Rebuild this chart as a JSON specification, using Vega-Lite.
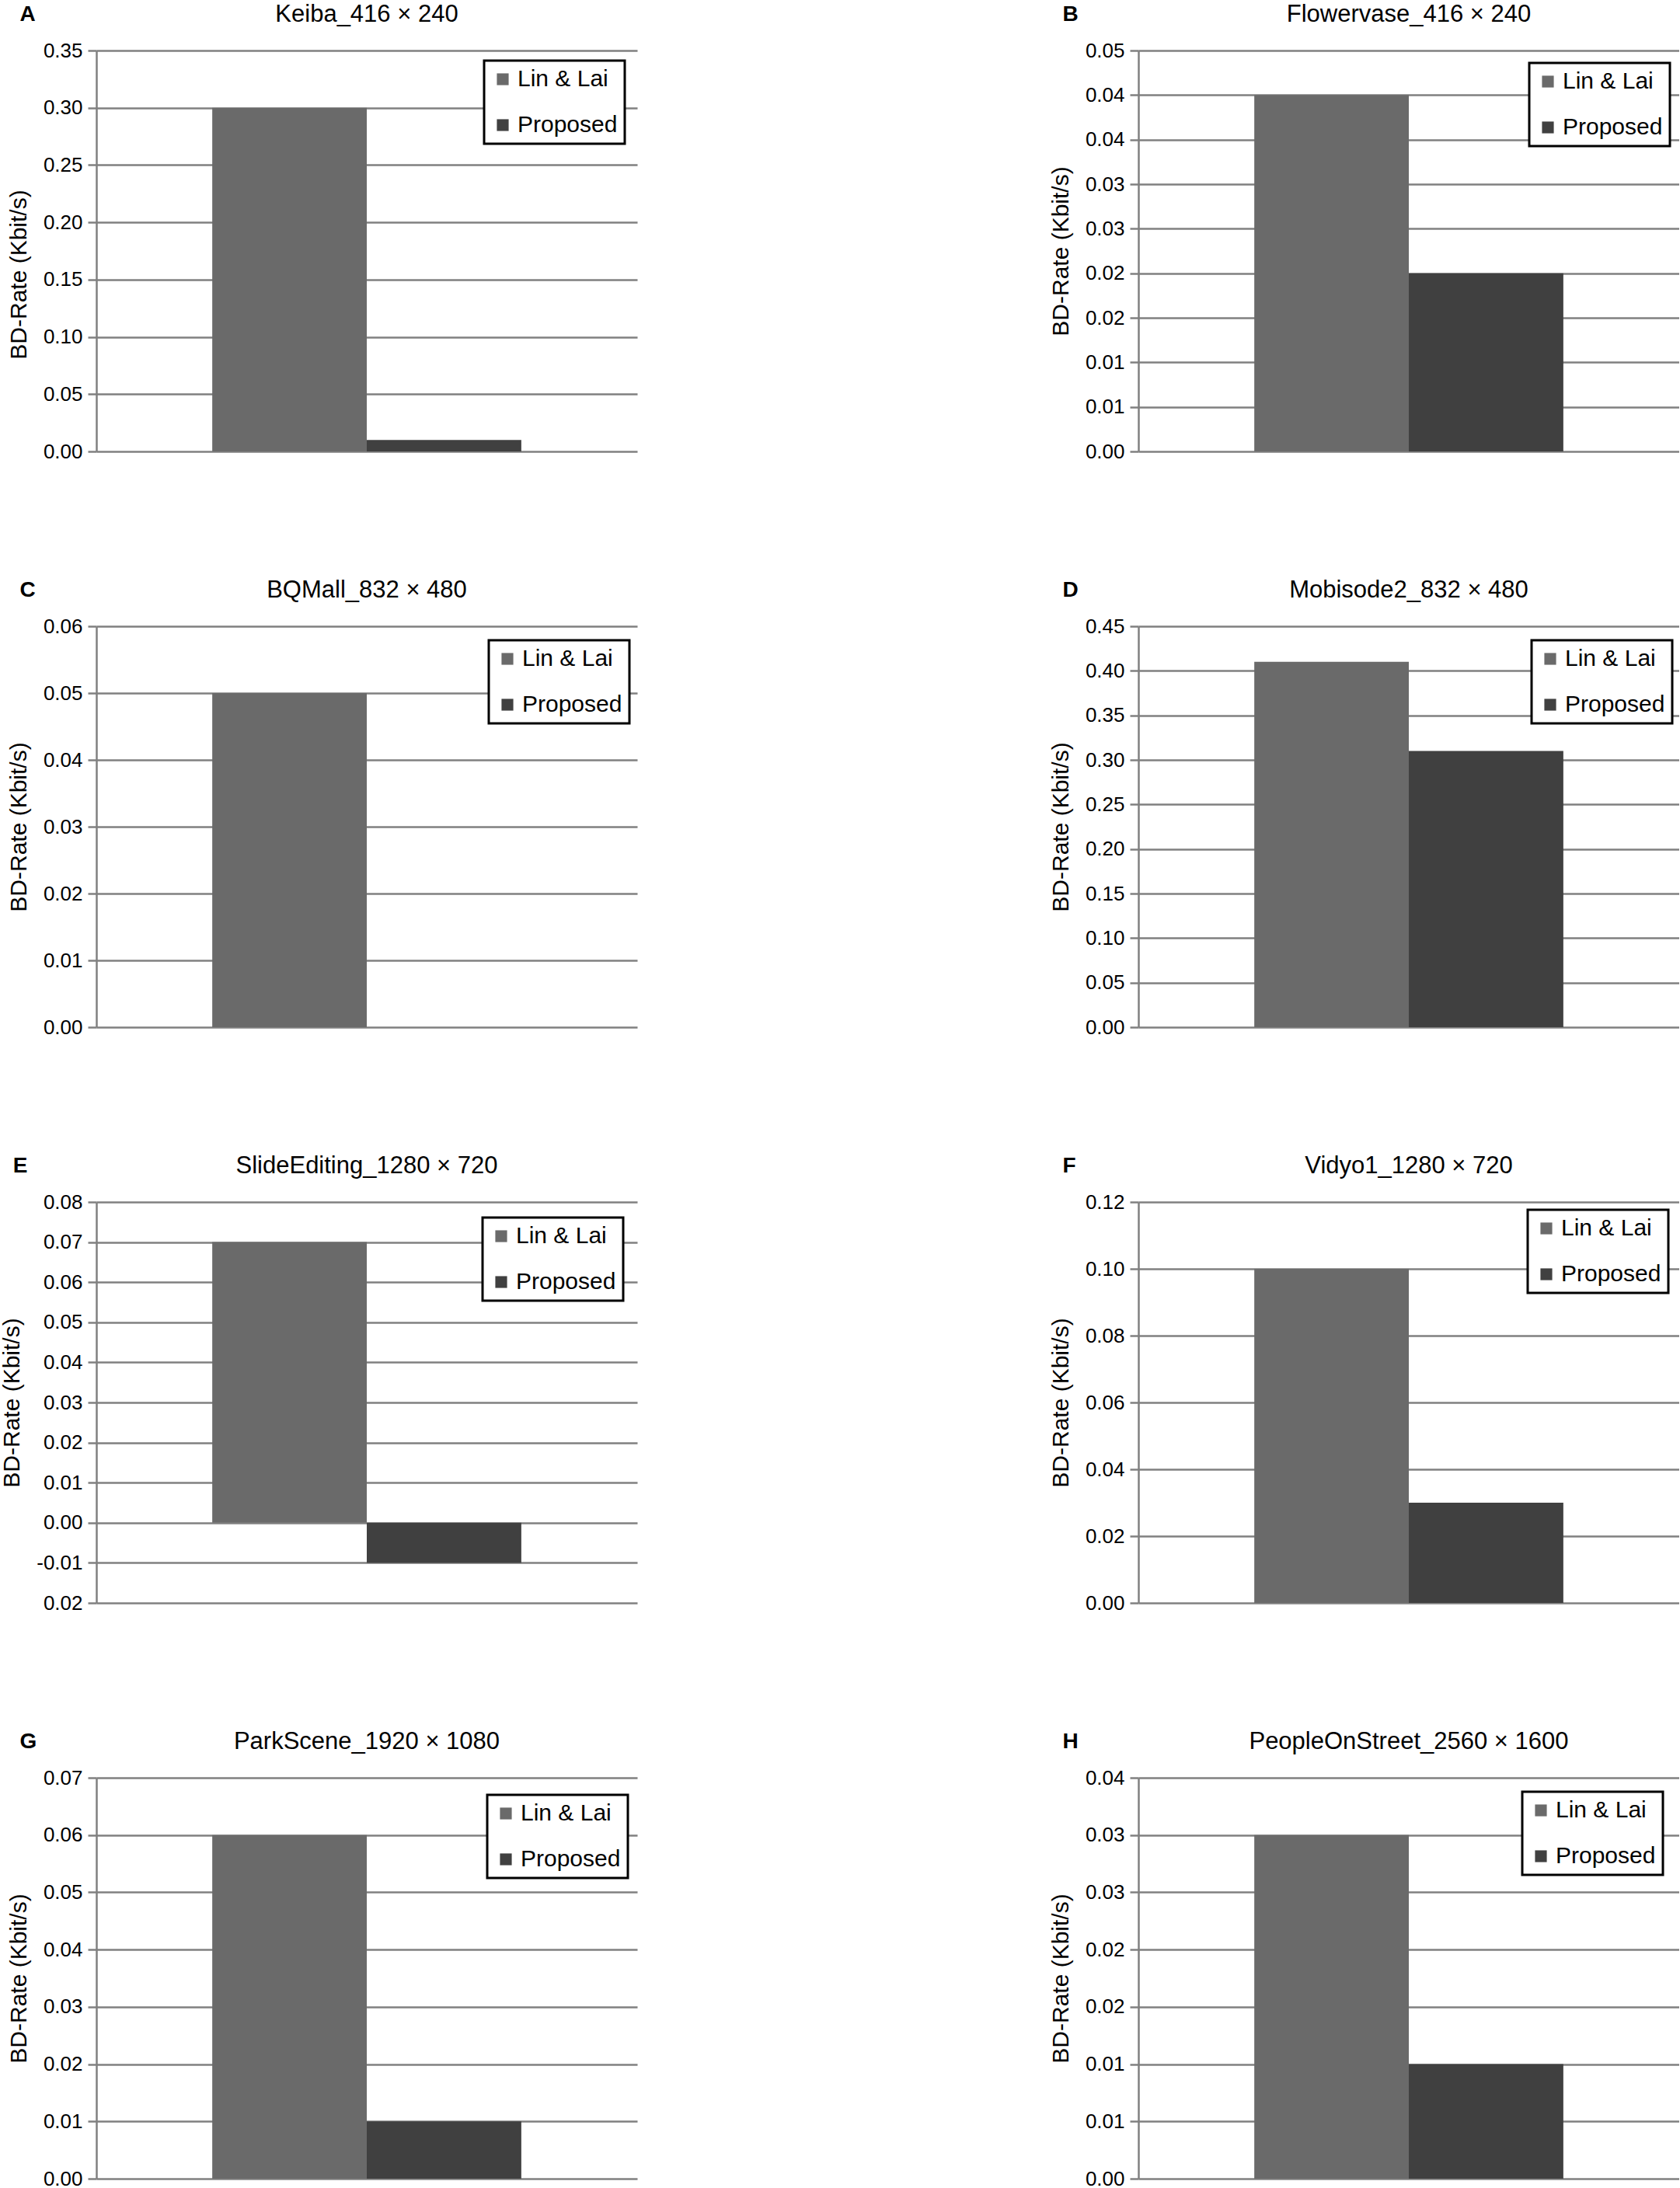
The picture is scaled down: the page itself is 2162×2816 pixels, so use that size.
{
  "$schema": "https://vega.github.io/schema/vega-lite/v6.json",
  "background": "white",
  "padding": {"left": 0, "top": 3, "right": 0, "bottom": 0},
  "autosize": {"type": "pad"},
  "datasets": {
    "bd": [
      {"panel": "A", "method": "Lin & Lai", "value": 0.30},
      {"panel": "A", "method": "Proposed", "value": 0.01},
      {"panel": "B", "method": "Lin & Lai", "value": 0.040},
      {"panel": "B", "method": "Proposed", "value": 0.020},
      {"panel": "C", "method": "Lin & Lai", "value": 0.05},
      {"panel": "C", "method": "Proposed", "value": 0.0},
      {"panel": "D", "method": "Lin & Lai", "value": 0.41},
      {"panel": "D", "method": "Proposed", "value": 0.31},
      {"panel": "E", "method": "Lin & Lai", "value": 0.07},
      {"panel": "E", "method": "Proposed", "value": -0.01},
      {"panel": "F", "method": "Lin & Lai", "value": 0.10},
      {"panel": "F", "method": "Proposed", "value": 0.03},
      {"panel": "G", "method": "Lin & Lai", "value": 0.06},
      {"panel": "G", "method": "Proposed", "value": 0.01},
      {"panel": "H", "method": "Lin & Lai", "value": 0.030},
      {"panel": "H", "method": "Proposed", "value": 0.010}
    ]
  },
  "data": {"name": "bd"},
  "columns": 2,
  "spacing": {"row": 150, "column": 530},
  "resolve": {"scale": {"color": "independent"}, "legend": {"color": "independent"}},
  "concat": [
    {
      "title": {"text": "A", "anchor": "start", "frame": "bounds", "fontWeight": "bold", "fontSize": 28, "offset": 0, "dy": 30, "dx": 16},
      "vconcat": [{
        "width": 696, "height": 516,
        "title": {"text": "Keiba_416 × 240"},
        "transform": [{"filter": "datum.panel === 'A'"}],
        "mark": {"type": "bar"},
        "encoding": {
          "x": {"field": "method", "type": "nominal", "sort": ["Lin & Lai", "Proposed"], "axis": null, "scale": {"paddingInner": 0, "paddingOuter": 0.75}},
          "y": {"field": "value", "type": "quantitative", "scale": {"domain": [0, 0.35], "nice": false},
                "axis": {"title": "BD-Rate (Kbit/s)", "titleY": 288, "values": [0, 0.05, 0.1, 0.15, 0.2, 0.25, 0.3, 0.35],
                         "labelExpr": "(datum.value < -0.0001 ? '-' : '') + format(round(round(abs(datum.value)*1000)/10)/100, '.2f')"}},
          "color": {"field": "method", "type": "nominal", "scale": {"domain": ["Lin & Lai", "Proposed"], "range": ["#6a6a6a", "#404040"]},
                    "legend": {"orient": "none", "legendX": 499, "legendY": 13, "encode": {"legend": {"update": {"strokeWidth": {"value": 3}}}}}}
        }
      }]
    },
    {
      "title": {"text": "B", "anchor": "start", "frame": "bounds", "fontWeight": "bold", "fontSize": 28, "offset": 0, "dy": 30, "dx": 17},
      "vconcat": [{
        "width": 696, "height": 516,
        "title": {"text": "Flowervase_416 × 240"},
        "transform": [{"filter": "datum.panel === 'B'"}],
        "mark": {"type": "bar"},
        "encoding": {
          "x": {"field": "method", "type": "nominal", "sort": ["Lin & Lai", "Proposed"], "axis": null, "scale": {"paddingInner": 0, "paddingOuter": 0.75}},
          "y": {"field": "value", "type": "quantitative", "scale": {"domain": [0, 0.045], "nice": false},
                "axis": {"title": "BD-Rate (Kbit/s)", "values": [0, 0.005, 0.01, 0.015, 0.02, 0.025, 0.03, 0.035, 0.04, 0.045],
                         "labelExpr": "(datum.value < -0.0001 ? '-' : '') + format(round(round(abs(datum.value)*1000)/10)/100, '.2f')"}},
          "color": {"field": "method", "type": "nominal", "scale": {"domain": ["Lin & Lai", "Proposed"], "range": ["#6a6a6a", "#404040"]},
                    "legend": {"orient": "none", "legendX": 503, "legendY": 16, "encode": {"legend": {"update": {"strokeWidth": {"value": 3}}}}}}
        }
      }]
    },
    {
      "title": {"text": "C", "anchor": "start", "frame": "bounds", "fontWeight": "bold", "fontSize": 28, "offset": 0, "dy": 30, "dx": 16},
      "vconcat": [{
        "width": 696, "height": 516,
        "title": {"text": "BQMall_832 × 480"},
        "transform": [{"filter": "datum.panel === 'C'"}],
        "mark": {"type": "bar"},
        "encoding": {
          "x": {"field": "method", "type": "nominal", "sort": ["Lin & Lai", "Proposed"], "axis": null, "scale": {"paddingInner": 0, "paddingOuter": 0.75}},
          "y": {"field": "value", "type": "quantitative", "scale": {"domain": [0, 0.06], "nice": false},
                "axis": {"title": "BD-Rate (Kbit/s)", "values": [0, 0.01, 0.02, 0.03, 0.04, 0.05, 0.06],
                         "labelExpr": "(datum.value < -0.0001 ? '-' : '') + format(round(round(abs(datum.value)*1000)/10)/100, '.2f')"}},
          "color": {"field": "method", "type": "nominal", "scale": {"domain": ["Lin & Lai", "Proposed"], "range": ["#6a6a6a", "#404040"]},
                    "legend": {"orient": "none", "legendX": 505, "legendY": 18, "encode": {"legend": {"update": {"strokeWidth": {"value": 3}}}}}}
        }
      }]
    },
    {
      "title": {"text": "D", "anchor": "start", "frame": "bounds", "fontWeight": "bold", "fontSize": 28, "offset": 0, "dy": 30, "dx": 17},
      "vconcat": [{
        "width": 696, "height": 516,
        "title": {"text": "Mobisode2_832 × 480"},
        "transform": [{"filter": "datum.panel === 'D'"}],
        "mark": {"type": "bar"},
        "encoding": {
          "x": {"field": "method", "type": "nominal", "sort": ["Lin & Lai", "Proposed"], "axis": null, "scale": {"paddingInner": 0, "paddingOuter": 0.75}},
          "y": {"field": "value", "type": "quantitative", "scale": {"domain": [0, 0.45], "nice": false},
                "axis": {"title": "BD-Rate (Kbit/s)", "values": [0, 0.05, 0.1, 0.15, 0.2, 0.25, 0.3, 0.35, 0.4, 0.45],
                         "labelExpr": "(datum.value < -0.0001 ? '-' : '') + format(round(round(abs(datum.value)*1000)/10)/100, '.2f')"}},
          "color": {"field": "method", "type": "nominal", "scale": {"domain": ["Lin & Lai", "Proposed"], "range": ["#6a6a6a", "#404040"]},
                    "legend": {"orient": "none", "legendX": 506, "legendY": 18, "encode": {"legend": {"update": {"strokeWidth": {"value": 3}}}}}}
        }
      }]
    },
    {
      "title": {"text": "E", "anchor": "start", "frame": "bounds", "fontWeight": "bold", "fontSize": 28, "offset": 0, "dy": 30, "dx": 16},
      "vconcat": [{
        "width": 696, "height": 516,
        "title": {"text": "SlideEditing_1280 × 720"},
        "transform": [{"filter": "datum.panel === 'E'"}],
        "mark": {"type": "bar"},
        "encoding": {
          "x": {"field": "method", "type": "nominal", "sort": ["Lin & Lai", "Proposed"], "axis": null, "scale": {"paddingInner": 0, "paddingOuter": 0.75}},
          "y": {"field": "value", "type": "quantitative", "scale": {"domain": [-0.02, 0.08], "nice": false},
                "axis": {"title": "BD-Rate (Kbit/s)", "values": [-0.02, -0.01, 0, 0.01, 0.02, 0.03, 0.04, 0.05, 0.06, 0.07, 0.08],
                         "labelExpr": "datum.value < -0.015 ? '0.02' : (datum.value < -0.0001 ? '-' : '') + format(round(round(abs(datum.value)*1000)/10)/100, '.2f')"}},
          "color": {"field": "method", "type": "nominal", "scale": {"domain": ["Lin & Lai", "Proposed"], "range": ["#6a6a6a", "#404040"]},
                    "legend": {"orient": "none", "legendX": 497, "legendY": 20, "encode": {"legend": {"update": {"strokeWidth": {"value": 3}}}}}}
        }
      }]
    },
    {
      "title": {"text": "F", "anchor": "start", "frame": "bounds", "fontWeight": "bold", "fontSize": 28, "offset": 0, "dy": 30, "dx": 17},
      "vconcat": [{
        "width": 696, "height": 516,
        "title": {"text": "Vidyo1_1280 × 720"},
        "transform": [{"filter": "datum.panel === 'F'"}],
        "mark": {"type": "bar"},
        "encoding": {
          "x": {"field": "method", "type": "nominal", "sort": ["Lin & Lai", "Proposed"], "axis": null, "scale": {"paddingInner": 0, "paddingOuter": 0.75}},
          "y": {"field": "value", "type": "quantitative", "scale": {"domain": [0, 0.12], "nice": false},
                "axis": {"title": "BD-Rate (Kbit/s)", "values": [0, 0.02, 0.04, 0.06, 0.08, 0.1, 0.12],
                         "labelExpr": "(datum.value < -0.0001 ? '-' : '') + format(round(round(abs(datum.value)*1000)/10)/100, '.2f')"}},
          "color": {"field": "method", "type": "nominal", "scale": {"domain": ["Lin & Lai", "Proposed"], "range": ["#6a6a6a", "#404040"]},
                    "legend": {"orient": "none", "legendX": 501, "legendY": 10, "encode": {"legend": {"update": {"strokeWidth": {"value": 3}}}}}}
        }
      }]
    },
    {
      "title": {"text": "G", "anchor": "start", "frame": "bounds", "fontWeight": "bold", "fontSize": 28, "offset": 0, "dy": 30, "dx": 16},
      "vconcat": [{
        "width": 696, "height": 516,
        "title": {"text": "ParkScene_1920 × 1080"},
        "transform": [{"filter": "datum.panel === 'G'"}],
        "mark": {"type": "bar"},
        "encoding": {
          "x": {"field": "method", "type": "nominal", "sort": ["Lin & Lai", "Proposed"], "axis": null, "scale": {"paddingInner": 0, "paddingOuter": 0.75}},
          "y": {"field": "value", "type": "quantitative", "scale": {"domain": [0, 0.07], "nice": false},
                "axis": {"title": "BD-Rate (Kbit/s)", "values": [0, 0.01, 0.02, 0.03, 0.04, 0.05, 0.06, 0.07],
                         "labelExpr": "(datum.value < -0.0001 ? '-' : '') + format(round(round(abs(datum.value)*1000)/10)/100, '.2f')"}},
          "color": {"field": "method", "type": "nominal", "scale": {"domain": ["Lin & Lai", "Proposed"], "range": ["#6a6a6a", "#404040"]},
                    "legend": {"orient": "none", "legendX": 503, "legendY": 22, "encode": {"legend": {"update": {"strokeWidth": {"value": 3}}}}}}
        }
      }]
    },
    {
      "title": {"text": "H", "anchor": "start", "frame": "bounds", "fontWeight": "bold", "fontSize": 28, "offset": 0, "dy": 30, "dx": 17},
      "vconcat": [{
        "width": 696, "height": 516,
        "title": {"text": "PeopleOnStreet_2560 × 1600"},
        "transform": [{"filter": "datum.panel === 'H'"}],
        "mark": {"type": "bar"},
        "encoding": {
          "x": {"field": "method", "type": "nominal", "sort": ["Lin & Lai", "Proposed"], "axis": null, "scale": {"paddingInner": 0, "paddingOuter": 0.75}},
          "y": {"field": "value", "type": "quantitative", "scale": {"domain": [0, 0.035], "nice": false},
                "axis": {"title": "BD-Rate (Kbit/s)", "values": [0, 0.005, 0.01, 0.015, 0.02, 0.025, 0.03, 0.035],
                         "labelExpr": "(datum.value < -0.0001 ? '-' : '') + format(round(round(abs(datum.value)*1000)/10)/100, '.2f')"}},
          "color": {"field": "method", "type": "nominal", "scale": {"domain": ["Lin & Lai", "Proposed"], "range": ["#6a6a6a", "#404040"]},
                    "legend": {"orient": "none", "legendX": 494, "legendY": 18, "encode": {"legend": {"update": {"strokeWidth": {"value": 3}}}}}}
        }
      }]
    }
  ],
  "config": {
    "font": "Liberation Sans",
    "view": {"stroke": null},
    "title": {"font": "Liberation Sans", "fontSize": 31, "fontWeight": "normal", "color": "black", "offset": 17, "anchor": "middle"},
    "axis": {
      "labelFont": "Liberation Sans", "labelFontSize": 26, "labelColor": "black",
      "titleFont": "Liberation Sans", "titleFontSize": 30, "titleFontWeight": "normal", "titleColor": "black", "titlePadding": 16,
      "domainColor": "#808080", "domainWidth": 2.5,
      "gridColor": "#808080", "gridWidth": 2.5,
      "tickColor": "#808080", "tickWidth": 2.5, "tickSize": 11, "labelPadding": 7
    },
    "legend": {
      "title": null,
      "labelFont": "Liberation Sans", "labelFontSize": 30, "labelColor": "black",
      "symbolType": "square", "symbolSize": 230, "symbolStrokeWidth": 0,
      "labelOffset": 4, "rowPadding": 29, "padding": 9,
      "fillColor": "white", "strokeColor": "black"
    }
  }
}
